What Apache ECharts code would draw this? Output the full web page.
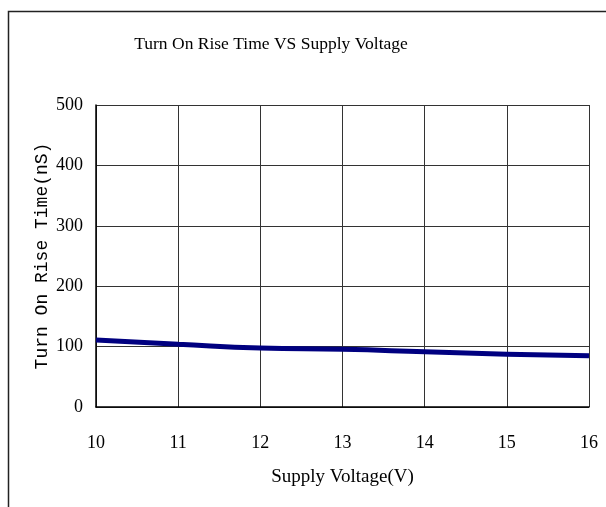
<!DOCTYPE html>
<html>
<head>
<meta charset="utf-8">
<script src="https://cdn.jsdelivr.net/npm/echarts@6/dist/echarts.min.js"></script>
<style>html,body{margin:0;padding:0;background:#fff}#c{width:606px;height:507px}</style>
</head>
<body>
<div id="c"></div>
<script>
var titleText = 'Turn On Rise Time VS Supply Voltage';
var xName = 'Supply Voltage(V)';
var yName = 'Turn On Rise Time(nS)';
var voltages = [10, 11, 12, 13, 14, 15, 16];
var riseTimes = [111, 104, 97.5, 95.5, 91.5, 87.5, 85];

var chart = echarts.init(document.getElementById('c'));
var serif = '"Liberation Serif", "Times New Roman", serif';
chart.setOption({
  animation: false,
  backgroundColor: '#fff',
  title: {
    text: titleText,
    left: 266,
    top: 30,
    textAlign: 'center',
    textStyle: { fontFamily: serif, fontSize: 17.5, fontWeight: 'normal', color: '#000' }
  },
  graphic: [{
    type: 'rect',
    shape: { x: 8.5, y: 11.5, width: 800, height: 700 },
    style: { fill: 'none', stroke: '#222', lineWidth: 1.5 },
    silent: true
  }],
  grid: { left: 96, right: 17, top: 105, bottom: 100 },
  xAxis: {
    type: 'value',
    min: 10, max: 16, interval: 1,
    name: xName,
    nameLocation: 'middle',
    nameGap: 61,
    nameTextStyle: { fontFamily: serif, fontSize: 19, color: '#000' },
    axisLine: { show: true, lineStyle: { color: '#000', width: 1.5 } },
    axisTick: { show: false },
    axisLabel: { margin: 27, fontFamily: serif, fontSize: 18, color: '#000' },
    splitLine: { show: true, lineStyle: { color: '#333', width: 1 } }
  },
  yAxis: {
    type: 'value',
    min: 0, max: 500, interval: 100,
    name: yName,
    nameLocation: 'middle',
    nameGap: 45,
    nameMoveOverlap: false,
    nameTextStyle: { fontFamily: '"Liberation Mono", "Courier New", monospace', fontSize: 18, color: '#000' },
    axisLine: { show: true, lineStyle: { color: '#000', width: 1.5 } },
    axisTick: { show: false },
    axisLabel: { margin: 13, fontFamily: serif, fontSize: 18, color: '#000' },
    splitLine: { show: true, lineStyle: { color: '#333', width: 1 } }
  },
  series: [{
    type: 'line',
    data: voltages.map(function (v, i) { return [v, riseTimes[i]]; }),
    smooth: true,
    symbol: 'none',
    lineStyle: { color: '#000080', width: 5 }
  }]
});
</script>
</body>
</html>
